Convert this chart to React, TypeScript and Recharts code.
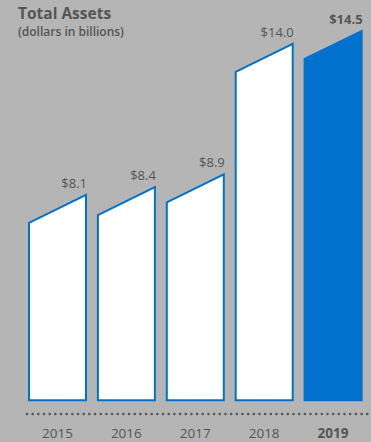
import React from 'react';
import { BarChart, Bar, XAxis, YAxis, LabelList } from 'recharts';

const years = ['2015', '2016', '2017', '2018', '2019'];
const assets = [8.1, 8.4, 8.9, 14.0, 14.5];
const valueLabels = ['$8.1', '$8.4', '$8.9', '$14.0', '$14.5'];

const data = years.map((y, i) => ({ year: y, value: assets[i], label: valueLabels[i] }));

const BG = '#b4b5b4';
const BLUE = '#0072ce';
const TEXT = '#555555';
const FONT = '"Open Sans", sans-serif';
const SLANT = 28;

const SlantBar = (props: any) => {
  const { x, y, width, height, index } = props;
  const last = index === data.length - 1;
  const x0 = x + 1;
  const x1 = x + width - 1;
  const yTop = y + 1;
  const yBot = y + height - 1;
  const d = `M${x0},${yTop + SLANT} L${x1},${yTop} L${x1},${yBot} L${x0},${yBot} Z`;
  return <path d={d} fill={last ? BLUE : '#ffffff'} stroke={BLUE} strokeWidth={2} strokeLinejoin="miter" />;
};

const ValueLabel = (props: any) => {
  const { x, y, width, index } = props;
  const last = index === data.length - 1;
  return (
    <text x={x + width} y={y - 6} textAnchor="end" fill={TEXT} fontFamily={FONT}
      fontSize={13} fontWeight={last ? 700 : 400}>
      {data[index].label}
    </text>
  );
};

const YearTick = (props: any) => {
  const { x, y, payload } = props;
  const last = payload.value === years[years.length - 1];
  return (
    <text x={x} y={y + 23.5} textAnchor="middle" fill={TEXT} fontFamily={FONT}
      fontSize={13.5} fontWeight={last ? 700 : 400}>
      {payload.value}
    </text>
  );
};

export default function App() {
  return (
    <div style={{ position: 'absolute', left: 0, top: 0, width: 371, height: 442, background: BG, overflow: 'hidden' }}>
      <div style={{ position: 'absolute', left: 18, top: 4, fontFamily: FONT, color: TEXT, fontSize: 15.5, fontWeight: 700, lineHeight: '19px', whiteSpace: 'nowrap' }}>
        Total Assets
      </div>
      <div style={{ position: 'absolute', left: 18, top: 25, fontFamily: FONT, color: TEXT, fontSize: 12, fontWeight: 600, lineHeight: '14px', whiteSpace: 'nowrap' }}>
        (dollars in billions)
      </div>
      <BarChart width={371} height={442} data={data}
        margin={{ top: 17.2, right: 3.5, left: 23, bottom: 0 }} barSize={59}>
        <YAxis hide domain={[-0.5, 15]} allowDataOverflow type="number" />
        <XAxis dataKey="year" height={28} tickLine={false} tickSize={0} tickMargin={0}
          tick={<YearTick />} interval={0}
          axisLine={{ stroke: TEXT, strokeWidth: 2.6, strokeDasharray: '0 5.67', strokeLinecap: 'round', strokeDashoffset: -4 }} />
        <Bar dataKey="value" shape={<SlantBar />} isAnimationActive={false}>
          <LabelList dataKey="value" content={<ValueLabel />} />
        </Bar>
      </BarChart>
    </div>
  );
}
